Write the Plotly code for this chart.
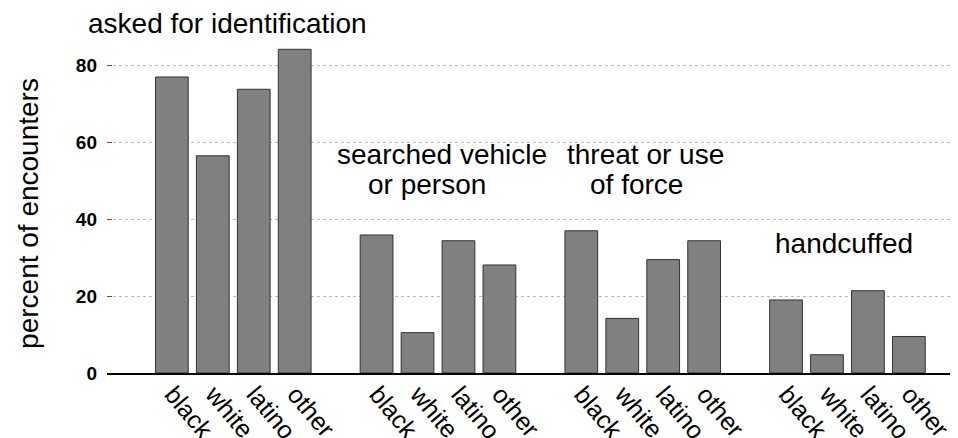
import plotly.graph_objects as go

# ---- data ----
races = ["black", "white", "latino", "other"]
groups = ["asked for identification", "searched vehicle or person",
          "threat or use of force", "handcuffed"]
asked_id = [77.0, 56.5, 73.8, 84.2]
searched = [35.9, 10.5, 34.4, 28.1]
threat_force = [37.0, 14.2, 29.5, 34.4]
handcuffed = [19.0, 4.75, 21.4, 9.5]
series = [asked_id, searched, threat_force, handcuffed]
y_ticks = [0, 20, 40, 60, 80]

FONT = "Liberation Sans, Arial, sans-serif"
SLOTS = len(races) + 1  # one empty slot between groups

xs, ys, labels = [], [], []
for g, vals in enumerate(series):
    for r, v in enumerate(vals):
        xs.append(g * SLOTS + r)
        ys.append(v)
        labels.append(races[r])

fig = go.Figure()
fig.add_trace(go.Bar(
    x=xs, y=ys, width=0.8,
    marker=dict(color="#808080", line=dict(color="#333333", width=1)),
    showlegend=False,
))

# group labels (text); y in paper units
ann = [
    ("asked for identification", 1.35, 1.011),
    ("searched vehicle", 6.60, 0.632),
    ("or person", 6.23, 0.546),
    ("threat or use", 11.57, 0.632),
    ("of force", 11.36, 0.546),
    ("handcuffed", 16.42, 0.373),
]
for text, ax, ay in ann:
    fig.add_annotation(x=ax, y=ay, xref="x", yref="paper", text=text,
                       showarrow=False, xanchor="center", yanchor="middle",
                       font=dict(family=FONT, size=28, color="black"))

fig.add_annotation(x=-0.0917, y=0.4626, xref="paper", yref="paper",
                   text="percent of encounters", textangle=-90,
                   showarrow=False, xanchor="center", yanchor="middle",
                   font=dict(family=FONT, size=28, color="black"))

fig.update_layout(
    width=950, height=430,
    margin=dict(l=99, r=0, t=19, b=65, autoexpand=False),
    paper_bgcolor="white", plot_bgcolor="white",
    bargap=0.2,
    font=dict(family=FONT, color="black"),
    xaxis=dict(
        range=[-1.584, 19.20],
        tickvals=xs, ticktext=labels, tickangle=50,
        tickfont=dict(family=FONT, size=25, color="black"),
        ticklabelshift=1, ticklabelstandoff=-5,
        ticklabeloverflow="allow", automargin=False,
        showgrid=False, zeroline=False,
        showline=True, linecolor="black", linewidth=1.5,
        ticks="",
    ),
    yaxis=dict(
        range=[0, 90], automargin=False,
        tickvals=y_ticks,
        ticktext=["<b>%d</b>" % t for t in y_ticks],
        tickfont=dict(family=FONT, size=19, color="black"),
        showgrid=True, gridcolor="#bbbbbb", griddash="dot", gridwidth=1,
        zeroline=False, showline=False,
        ticks="inside", ticklen=5, tickcolor="#555555",
        ticklabelstandoff=9,
    ),
)

fig.write_html("out.html")
